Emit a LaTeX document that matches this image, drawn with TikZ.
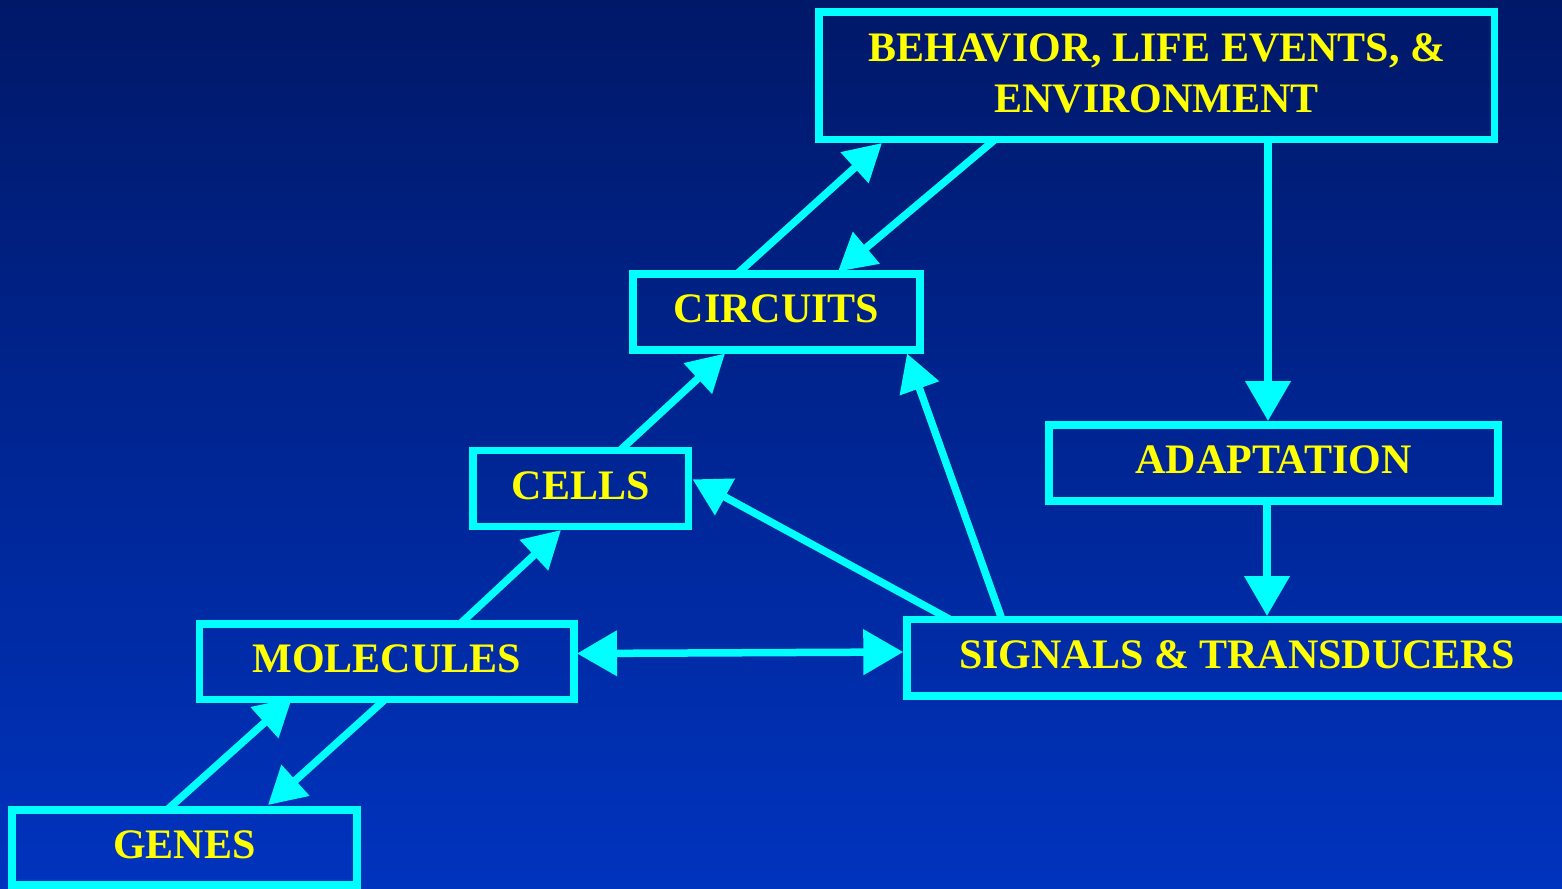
\documentclass[tikz,border=0pt]{standalone}
\usepackage{fontspec}
\setmainfont{Liberation Serif}
\usetikzlibrary{arrows.meta}
\definecolor{bgtop}{RGB}{0,24,104}
\definecolor{bgbot}{RGB}{0,51,190}
\definecolor{cy}{RGB}{0,255,255}
\definecolor{yl}{RGB}{255,255,0}
\tikzset{
 boxbase/.style={draw=cy, line width=7.5pt, inner sep=0pt, outer sep=0pt, text=yl,
   font=\fontsize{42}{51}\selectfont\bfseries, align=center},
 box/.style={boxbase, text height=28pt, text depth=7pt},
 conn/.style={draw=cy, line width=7.5pt, -{Triangle[length=37pt,width=40pt]}},
 connst/.style={draw=cy, line width=7.5pt, -{Triangle[length=40pt,width=44pt]}},
 connboth/.style={draw=cy, line width=7.5pt, {Triangle[length=40pt,width=44pt]}-{Triangle[length=40pt,width=44pt]}},
}
\begin{document}
\begin{tikzpicture}[x=1pt,y=-1pt]
\useasboundingbox (0,0) rectangle (1562,888);
\clip (0,0) rectangle (1562,888);
\shade[top color=bgtop,bottom color=bgbot] (0,0) rectangle (1562,888);

\node[boxbase, minimum width=675.5pt, minimum height=127.5pt, text depth=5.5pt] (beh) at (1156.75,75.75) {BEHAVIOR, LIFE EVENTS, \&\\ENVIRONMENT};
\node[box, minimum width=287pt, minimum height=76pt] (circ) at (776.5,312) {CIRCUITS};
\node[box, minimum width=215.5pt, minimum height=76pt] (cells) at (580.75,488.5) {CELLS};
\node[box, minimum width=449pt, minimum height=76pt] (adapt) at (1273.5,463) {ADAPTATION};
\node[box, minimum width=660pt, minimum height=76.5pt] (sig) at (1237,657.75) {SIGNALS \& TRANSDUCERS};
\node[box, minimum width=374.5pt, minimum height=75.5pt] (mol) at (386.75,661.75) {MOLECULES};
\node[box, minimum width=345pt, minimum height=75pt] (genes) at (184.5,847.5) {GENES};

\draw[conn] ([shift={(104,0)}]circ.north west) -- ([shift={(63,131)}]beh.north west);
\draw[conn] ([shift={(176,127.5)}]beh.north west) -- ([shift={(205,-2.5)}]circ.north west);
\draw[connst] ([shift={(449,127.5)}]beh.north west) -- ([shift={(219,-4)}]adapt.north west);
\draw[connst] ([shift={(218,76)}]adapt.north west) -- ([shift={(360,-3.5)}]sig.north west);
\draw[conn] ([shift={(147,0)}]cells.north west) -- ([shift={(92,79.5)}]circ.north west);
\draw[conn] ([shift={(260.5,0)}]mol.north west) -- ([shift={(88,79.5)}]cells.north west);
\draw[conn] ([shift={(95,0)}]sig.north west) -- ([shift={(274,79.5)}]circ.north west);
\draw[conn] ([shift={(43,0)}]sig.north west) -- ([shift={(219.5,28.8)}]cells.north west);
\draw[connboth] ([shift={(377.5,29.5)}]mol.north west) -- ([shift={(-3.7,32.5)}]sig.north west);
\draw[conn] ([shift={(155,0)}]genes.north west) -- ([shift={(92.5,74)}]mol.north west);
\draw[conn] ([shift={(185.5,75.5)}]mol.north west) -- ([shift={(256,-5)}]genes.north west);
\end{tikzpicture}
\end{document}
